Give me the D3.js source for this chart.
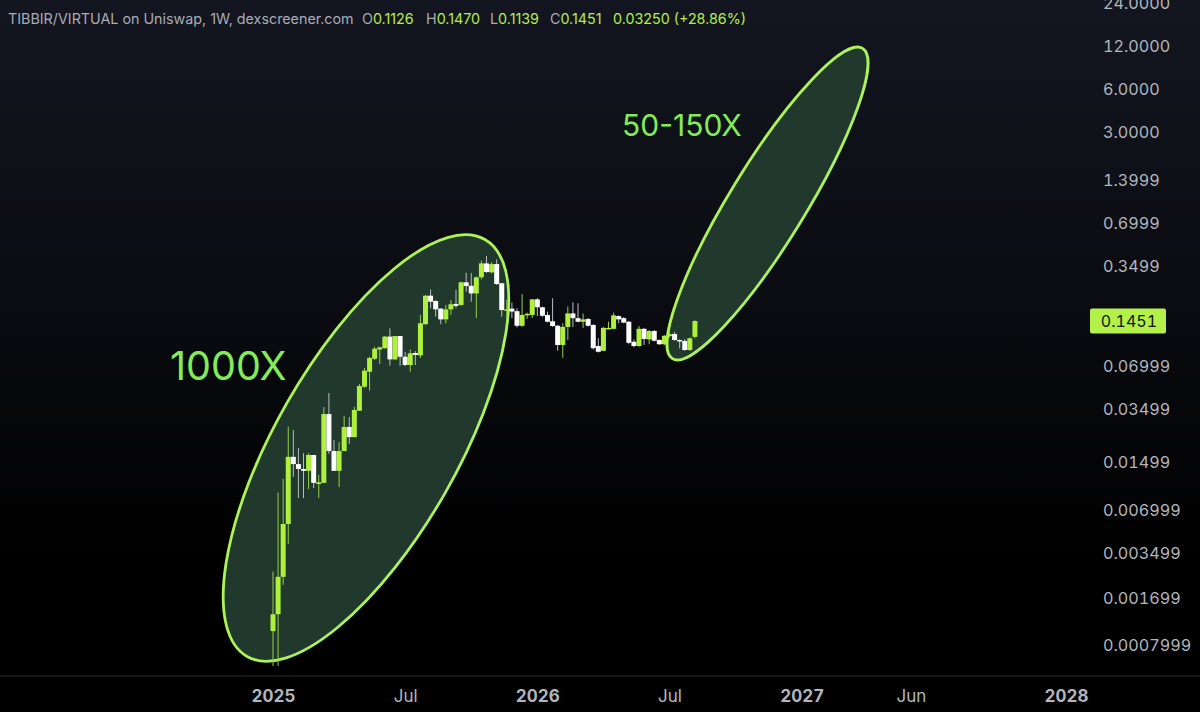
<!DOCTYPE html>
<html>
<head>
<meta charset="utf-8">
<title>TIBBIR/VIRTUAL</title>
<script src="https://cdn.jsdelivr.net/npm/d3@7"></script>
<style>
html, body { margin: 0; padding: 0; background: #000; }
svg { display: block; }
text { font-family: Inter, "Noto Sans", sans-serif; }
.tick text, .lastPrice { font-variant-numeric: tabular-nums; }
.tick line, .domain { display: none; }
</style>
</head>
<body>
<div id="chart"></div>
<script>
// weekly candles
var opens = [.00100,.00131,.00239,.00558,.0164,.0146,.0135,.0131,.0169,.0106,.0108,.0326,.0180,.0131,.0180,.0265,.0225,.0344,.0506,.0643,.0792,.0919,.0938,.113,.0784,.114,.0818,.0716,.0868,.0836,.138,.218,.200,.177,.149,.175,.191,.188,.270,.2556,.226,.293,.366,.317,.362,.266,.172,.177,.170,.1345,.159,.160,.2055,.181,.160,.1445,.1345,.0988,.132,.164,.152,.1435,.150,.136,.0972,.090,.128,.128,.157,.152,.1435,.104,.0972,.128,.108,.1236,.107,.100,.114,.118,.107,.1053,.0911,.1126];
var highs = [.00260,.00922,.0115,.0266,.0252,.0189,.0174,.0174,.0169,.0123,.0365,.0457,.0215,.0208,.0316,.0311,.0366,.0528,.0683,.0818,.0961,.0961,.114,.129,.114,.114,.0886,.0919,.0896,.160,.220,.241,.203,.179,.188,.203,.239,.273,.315,.314,.296,.382,.412,.374,.391,.268,.2055,.195,.178,.224,.166,.2065,.209,.183,.1685,.209,.136,.140,.183,.196,.193,.164,.152,.138,.110,.132,.1435,.166,.159,.1545,.145,.108,.134,.130,.1256,.1256,.108,.116,.122,.122,.108,.1087,.1115,.1470];
var lows = [.000571,.000571,.00210,.00405,.0119,.00847,.00847,.00977,.00994,.00847,.0108,.0172,.0131,.0101,.0180,.0202,.0225,.0343,.0495,.0475,.0776,.0728,.0930,.0708,.0776,.0708,.0705,.0643,.0716,.0802,.136,.178,.1555,.138,.140,.160,.179,.185,.232,.198,.152,.283,.314,.312,.259,.1555,.152,.152,.131,.132,.150,.152,.157,.1555,.142,.132,.090,.0805,.107,.132,.142,.130,.133,.0919,.0876,.0896,.127,.127,.140,.140,.100,.095,.096,.0988,.100,.1045,.0988,.0988,.112,.1058,.0935,.090,.090,.1100];
var closes = [.00131,.00239,.00558,.0164,.0146,.0135,.0131,.0169,.0108,.0109,.0326,.0180,.0131,.0180,.0265,.0225,.0348,.0511,.0654,.0802,.0930,.0951,.113,.0784,.114,.0818,.0716,.0864,.0841,.140,.218,.198,.175,.149,.175,.190,.185,.270,.2545,.226,.293,.366,.319,.362,.263,.173,.175,.169,.1345,.160,.163,.2055,.181,.158,.1435,.134,.0988,.132,.164,.152,.1435,.149,.1345,.0938,.0886,.130,.130,.159,.149,.1415,.1024,.0972,.128,.1087,.1236,.1058,.100,.1145,.1175,.107,.1045,.0911,.110,.1451];

var priceTicks = [24, 12, 6, 3, 1.3999, 0.6999, 0.3499, 0.06999, 0.03499, 0.01499, 0.006999, 0.003499, 0.001699, 0.0007999];
var priceLabels = ["24.0000", "12.0000", "6.0000", "3.0000", "1.3999", "0.6999", "0.3499", "0.06999", "0.03499", "0.01499", "0.006999", "0.003499", "0.001699", "0.0007999"];
var timeWeeks = [0, 26, 52, 78, 104, 125.5, 156];
var timeLabels = ["2025", "Jul", "2026", "Jul", "2027", "Jun", "2028"];
var lastPrice = 0.1451;

var width = 1200, height = 712;

var x = d3.scaleLinear().domain([0, 156]).range([273, 1066]);
var y = d3.scaleLog().domain([12, 0.0007999]).range([46, 645]);

var svg = d3.select("#chart").append("svg")
    .attr("width", width)
    .attr("height", height);

// background fades from the dark blue at the top to black
var grad = svg.append("defs").append("linearGradient")
    .attr("id", "bg")
    .attr("x1", 0).attr("y1", 0).attr("x2", 0).attr("y2", 1);
grad.append("stop").attr("offset", "0%").attr("stop-color", "#131620");
grad.append("stop").attr("offset", "45%").attr("stop-color", "#0a0b10");
grad.append("stop").attr("offset", "78%").attr("stop-color", "#000000");
grad.append("stop").attr("offset", "100%").attr("stop-color", "#000000");

svg.append("rect").attr("width", width).attr("height", height).attr("fill", "url(#bg)");

// hand drawn ellipses
function ellipse(cx, cy, a, b, angle) {
    svg.append("ellipse")
        .attr("cx", cx).attr("cy", cy)
        .attr("rx", a).attr("ry", b)
        .attr("transform", "rotate(" + angle + " " + cx + " " + cy + ")")
        .attr("fill", "#20392c")
        .attr("stroke", "#aef25a")
        .attr("stroke-width", 2.8);
}
ellipse(366, 448, 240, 91, -60.3);
ellipse(767.5, 203.5, 182, 38, -58.5);

// candles
var candles = d3.range(opens.length);
var bodyWidth = 5;
var candle = svg.append("g").selectAll("g").data(candles).enter().append("g");

candle.append("line")
    .attr("x1", function(i){ return x(i); })
    .attr("x2", function(i){ return x(i); })
    .attr("y1", function(i){ return y(highs[i]); })
    .attr("y2", function(i){ return y(lows[i]); })
    .attr("stroke", function(i){ return closes[i] >= opens[i] ? "#93cf48" : "#b9bcc0"; })
    .attr("stroke-width", 1);

candle.append("rect")
    .attr("x", function(i){ return x(i) - bodyWidth / 2; })
    .attr("y", function(i){ return y(Math.max(opens[i], closes[i])); })
    .attr("width", bodyWidth)
    .attr("height", function(i){
        return Math.max(1.5, Math.abs(y(opens[i]) - y(closes[i])));
    })
    .attr("fill", function(i){ return closes[i] >= opens[i] ? "#aef03c" : "#ffffff"; });

// price axis
var yAxis = d3.axisRight(y)
    .tickValues(priceTicks)
    .tickSize(0)
    .tickPadding(0)
    .tickFormat(function(d, i){ return priceLabels[i]; });

svg.append("g")
    .attr("transform", "translate(1103,0)")
    .call(yAxis)
    .selectAll("text")
    .attr("fill", "#b2b5bc")
    .style("font-family", "Inter")
    .style("font-size", "16.2px");

// last price tag
svg.append("rect")
    .attr("x", 1090).attr("y", y(lastPrice) - 12.5)
    .attr("width", 76).attr("height", 25).attr("rx", 2)
    .attr("fill", "#b4f04a");
svg.append("text")
    .attr("class", "lastPrice")
    .attr("x", 1157).attr("y", y(lastPrice) + 6)
    .attr("text-anchor", "end")
    .attr("fill", "#10140a")
    .style("font-size", "16px")
    .text(d3.format(".4f")(lastPrice));

// time axis
svg.append("line")
    .attr("x1", 0).attr("x2", width)
    .attr("y1", 676).attr("y2", 676)
    .attr("stroke", "#2c2d31");

var xAxis = d3.axisBottom(x)
    .tickValues(timeWeeks)
    .tickSize(0)
    .tickPadding(0)
    .tickFormat(function(d, i){ return timeLabels[i]; });

svg.append("g")
    .attr("transform", "translate(0,690)")
    .call(xAxis)
    .selectAll("text")
    .attr("fill", "#b2b5bc")
    .style("font-family", "Inter")
    .style("font-size", "17px")
    .style("font-weight", function(d, i){ return timeLabels[i].length == 4 ? 700 : 400; });

// header line
var label = "#a8acb5", value = "#b4ee4e";
var parts = [
    ["TIBBIR/VIRTUAL on Uniswap, 1W, dexscreener.com", label, 8],
    ["O", label, 362], ["0.1126", value, null],
    ["H", label, 426], ["0.1470", value, null],
    ["L", label, 490], ["0.1139", value, null],
    ["C", label, 550], ["0.1451", value, null],
    ["0.03250 (+28.86%)", value, 613]
];
var header = svg.append("text").attr("y", 24).style("font-size", "14.3px");
parts.forEach(function(p){
    var t = header.append("tspan").attr("fill", p[1]).text(p[0]);
    if (p[2] !== null) t.attr("x", p[2]);
});

// annotations
svg.append("text")
    .attr("x", 170).attr("y", 380)
    .attr("fill", "#84ec55")
    .style("font-size", "39.5px")
    .text("1000X");
svg.append("text")
    .attr("x", 622).attr("y", 136)
    .attr("fill", "#84ec55")
    .style("font-size", "30px")
    .text("50-150X");
</script>
</body>
</html>
